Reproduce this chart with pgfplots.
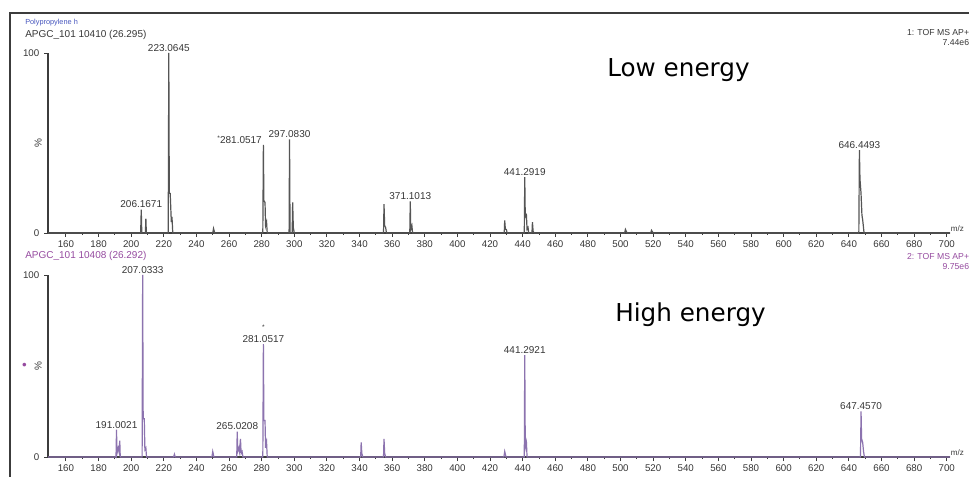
\documentclass[border=0pt]{standalone}
\usepackage{fontspec}
\setmainfont{Liberation Sans}
\newfontfamily\dejavu{DejaVu Sans}
\usepackage{pgfplots}
\usepackage{pgfplotstable}
\pgfplotsset{compat=1.18}
\definecolor{axgray}{RGB}{60,60,60}
\definecolor{specgray}{RGB}{85,85,85}
\definecolor{specpurple}{RGB}{140,115,175}
\definecolor{txtgray}{RGB}{55,55,55}
\definecolor{hdrblue}{RGB}{70,85,190}
\definecolor{hdrpurple}{RGB}{150,75,160}

\pgfplotstableread{
mz int
149 0
205.8 0
206.17 13
206.5 0
208.7 0
209.0 8
209.3 0
222.7 0
223.06 100
223.35 22
223.9 22
224.1 18
224.6 6
225.0 9
225.5 0
250 0
250.5 2.5
251.2 0
280.7 0
281.05 49
281.35 18
282.05 17
282.4 4
283.0 6
283.4 0
296.8 0
297.08 52
297.4 0
298.7 0
299.0 17
299.4 3
300 0
354.7 0
355.0 16
355.4 4
356.0 3
356.5 0
370.8 0
371.10 17.5
371.4 2
372.1 4
372.5 0
428.7 0
429.0 7
429.4 2
430.0 2
430.5 0
441.0 0
441.29 31
441.6 9
442.3 10
442.7 2
443.3 3
443.7 0
445.7 0
446.0 6
446.4 1
447 0
502.5 0
503 2
504 0
518.5 0
519 1.5
520 0
646.1 0
646.45 46
646.8 30
647.45 22
648.0 10
648.5 7
649.3 0
702 0
}\lowE

\pgfplotstableread{
mz int
149 0
190.7 0
191.0 15
191.3 2
192.0 5
192.5 3
193.0 9
193.3 0
206.7 0
207.03 100
207.35 21
208.03 21
208.4 4
209.0 5
209.4 0
226 0
226.5 1.5
227 0
249.5 0
250 3
250.7 0
264.7 0
265.02 14
265.3 3
266.0 5
266.4 3
267.0 10
267.4 2
268 3
268.5 0
280.7 0
281.05 62
281.35 20
282.05 20
282.4 5
283.0 8
283.4 0
340.7 0
341.0 8
341.4 2
342 0
354.7 0
355.0 10
355.4 2
356 0
428.5 0
429 3
429.8 0
441.0 0
441.29 56
441.6 5
442.3 8
442.7 0
647.1 0
647.46 25
647.8 10
648.45 8
649.0 3
649.5 0
702 0
}\highE

\tikzset{lbl/.style={font=\fontsize{7.5}{8}\selectfont, text=txtgray, inner sep=1pt, anchor=south}}

\pgfplotsset{msaxis/.style={
  scale only axis, width=676.5pt,
  xmin=149, xmax=702, ymin=0, ymax=100,
  axis lines*=left,
  axis line style={axgray, line width=1.1pt},
  xtick={160,180,...,700}, minor x tick num=1, ytick={0,100},
  tick align=outside, major tick length=3pt, minor tick length=1.5pt,
  tick style={axgray, line width=0.7pt},
  ticklabel style={font=\fontsize{7.3}{8}\selectfont, text=txtgray},
  xticklabel style={yshift=0.5pt},
  /pgf/number format/assume math mode=true,
  /pgf/number format/1000 sep={},
  clip=false,
  ylabel={\%},
  ylabel style={at={(axis description cs:-0.011,0.5)}, anchor=center, font=\fontsize{7.5}{8}\selectfont, text=txtgray},
  anchor=south west,
}}

\begin{document}
\begin{tikzpicture}
\useasboundingbox (0pt,0pt) rectangle (726.75pt,357.75pt);
\fill[white] (0pt,0pt) rectangle (726.75pt,357.75pt);
\draw[axgray, line width=1.1pt] (7.5pt,-1pt) -- (7.5pt,348pt) -- (728pt,348pt);

% header texts
\node[anchor=west, font=\fontsize{5.5}{6}\selectfont, text=hdrblue, inner sep=0pt] at (18.75pt,340.5pt) {Polypropylene h};
\node[anchor=west, font=\fontsize{7.5}{8}\selectfont, text=txtgray, inner sep=0pt] at (18.75pt,331.5pt) {APGC\_101 10410 (26.295)};
\node[anchor=east, font=\fontsize{6.5}{7}\selectfont, text=txtgray, inner sep=0pt] at (727pt,333pt) {1: TOF MS AP+};
\node[anchor=east, font=\fontsize{6.5}{7}\selectfont, text=txtgray, inner sep=0pt] at (727pt,325.5pt) {7.44e6};
\node[anchor=west, font=\fontsize{7.5}{8}\selectfont, text=hdrpurple, inner sep=0pt] at (18.75pt,165.75pt) {APGC\_101 10408 (26.292)};
\node[anchor=east, font=\fontsize{6.5}{7}\selectfont, text=hdrpurple, inner sep=0pt] at (727pt,165pt) {2: TOF MS AP+};
\node[anchor=east, font=\fontsize{6.5}{7}\selectfont, text=hdrpurple, inner sep=0pt] at (727pt,157.5pt) {9.75e6};

\node[anchor=base west, font=\dejavu\fontsize{18.5}{21}\selectfont, inner sep=0pt] at (455.25pt,300pt) {Low energy};
\node[anchor=base west, font=\dejavu\fontsize{18.5}{21}\selectfont, inner sep=0pt] at (461.25pt,116.25pt) {High energy};

% low energy
\begin{axis}[msaxis, at={(36pt,183pt)}, height=135pt]
\addplot[specgray, line width=0.9pt, no marks, sharp plot] table[x=mz, y=int] {\lowE};
\node[lbl] at (axis cs:206.17,13) {206.1671};
\node[lbl] at (axis cs:223.06,100) {223.0645};
\node[lbl, anchor=south east] at (axis cs:281.05,49) {\raisebox{2pt}{\fontsize{5}{5}\selectfont *}281.0517};
\node[lbl] at (axis cs:297.08,52) {297.0830};
\node[lbl] at (axis cs:371.10,17.5) {371.1013};
\node[lbl] at (axis cs:441.29,31) {441.2919};
\node[lbl] at (axis cs:646.45,46) {646.4493};
\node[anchor=south west, font=\fontsize{6}{6}\selectfont, text=txtgray, inner sep=0.5pt] at (axis cs:702,0) {m/z};
\end{axis}

% high energy
\begin{axis}[msaxis, at={(36pt,15pt)}, height=136.5pt]
\addplot[specpurple, line width=0.9pt, no marks, sharp plot] table[x=mz, y=int] {\highE};
\node[lbl] at (axis cs:191.0,15) {191.0021};
\node[lbl] at (axis cs:207.03,100) {207.0333};
\node[lbl] at (axis cs:265.02,14) {265.0208};
\node[lbl] (b281) at (axis cs:281.05,62) {281.0517};
\node[font=\fontsize{5}{5}\selectfont, text=txtgray, inner sep=0pt, anchor=south] at ([yshift=3pt]b281.north) {*};
\node[lbl] at (axis cs:441.29,56) {441.2921};
\node[lbl] at (axis cs:647.46,25) {647.4570};
\node[anchor=south west, font=\fontsize{6}{6}\selectfont, text=txtgray, inner sep=0.5pt] at (axis cs:702,0) {m/z};
\node[text=hdrpurple, font=\fontsize{10}{10}\selectfont, inner sep=0pt] at (axis description cs:-0.026,0.5) {•};
\end{axis}
\end{tikzpicture}
\end{document}
